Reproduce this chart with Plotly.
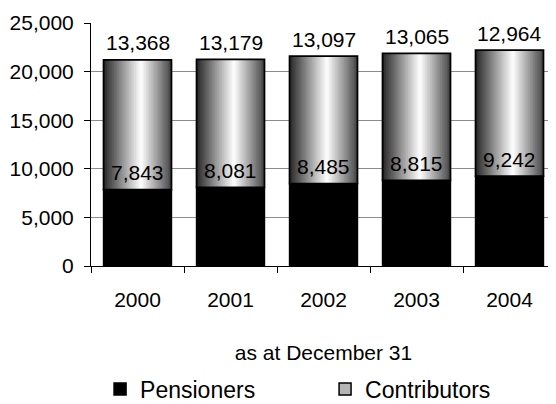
import plotly.graph_objects as go

# ---- data ----
years = ["2000", "2001", "2002", "2003", "2004"]
pensioners = [7843, 8081, 8485, 8815, 9242]
contributors = [13368, 13179, 13097, 13065, 12964]
y_ticks = [0, 5000, 10000, 15000, 20000, 25000]

totals = [p + c for p, c in zip(pensioners, contributors)]

FONT = "Liberation Sans, Arial, sans-serif"
FS = 21
LEG_FS = 23
BAR_W = 0.73
N_STRIPS = 40


def shade(t):
    """Cylinder-like horizontal gradient: dark -> white -> dark."""
    peak = 0.55
    lo_l, lo_r = 0.15, 0.27
    if t <= peak:
        v = lo_l + (1 - lo_l) * (t / peak)
    else:
        v = lo_r + (1 - lo_r) * (1 - (t - peak) / (1 - peak))
    g = int(round(255 * v))
    return f"rgb({g},{g},{g})"


fig = go.Figure()

# Pensioners (black)
fig.add_trace(go.Bar(
    x=years, y=pensioners, name="Pensioners", width=BAR_W,
    marker=dict(color="black", line=dict(color="black", width=1.5)),
))

# Contributors: gradient built from vertical strips stacked on pensioners
sw = BAR_W / N_STRIPS
for i in range(N_STRIPS):
    t = (i + 0.5) / N_STRIPS
    w = sw * 1.6 if i < N_STRIPS - 1 else sw
    fig.add_trace(go.Bar(
        x=years, y=contributors, base=pensioners,
        width=w, offset=-BAR_W / 2 + i * sw,
        marker=dict(color=shade(t), line=dict(width=0)),
        showlegend=False, hoverinfo="skip",
    ))

# Outline for contributors segment
fig.add_trace(go.Bar(
    x=years, y=contributors, base=pensioners, width=BAR_W,
    marker=dict(color="rgba(0,0,0,0)", line=dict(color="black", width=1.8)),
    showlegend=False, hoverinfo="skip",
))

# Legend entry for contributors
fig.add_trace(go.Bar(
    x=years, y=[None] * len(years), name="Contributors",
    marker=dict(color="#b5b5b5", line=dict(color="black", width=1.5)),
))

annotations = []
for idx, (p, c, tot) in enumerate(zip(pensioners, contributors, totals)):
    annotations.append(dict(
        x=idx, y=p, xref="x", yref="y", text=f"{p:,}", showarrow=False,
        yanchor="middle", yshift=17, font=dict(family=FONT, size=FS, color="black"),
    ))
    annotations.append(dict(
        x=idx, y=tot, xref="x", yref="y", text=f"{c:,}", showarrow=False,
        yanchor="middle", yshift=17, bgcolor="white",
        font=dict(family=FONT, size=FS, color="black"),
    ))

# page body has an 8px default margin, so the figure is sized to fit inside
fig.update_layout(
    width=548, height=396,
    margin=dict(l=83, r=0, t=15, b=138),
    paper_bgcolor="white", plot_bgcolor="white",
    barmode="overlay", bargap=0.27,
    font=dict(family=FONT, size=FS, color="black"),
    annotations=annotations,
    showlegend=True,
    legend=dict(
        orientation="h", xref="container", yref="container",
        x=0.168, xanchor="left", y=0.038, yanchor="middle",
        font=dict(family=FONT, size=LEG_FS, color="black"),
        entrywidth=180, traceorder="normal",
        itemclick=False, itemdoubleclick=False,
    ),
    xaxis=dict(
        type="category", range=[-0.5, 4.5],
        showline=True, linecolor="black", linewidth=1,
        ticks="outside", ticklen=6, tickcolor="black", tickson="boundaries",
        showgrid=False, ticklabelstandoff=15,
        tickfont=dict(family=FONT, size=FS),
        title=dict(text="as at December 31", standoff=35,
                   font=dict(family=FONT, size=FS)),
    ),
    yaxis=dict(
        range=[0, 25000], tickvals=y_ticks, tickformat=",",
        showline=True, linecolor="black", linewidth=1,
        ticks="outside", ticklen=6, tickcolor="black",
        showgrid=True, gridcolor="#8c8c8c", gridwidth=1,
        zeroline=False, ticklabelstandoff=6,
        tickfont=dict(family=FONT, size=FS),
    ),
)

fig.write_html("out.html")
